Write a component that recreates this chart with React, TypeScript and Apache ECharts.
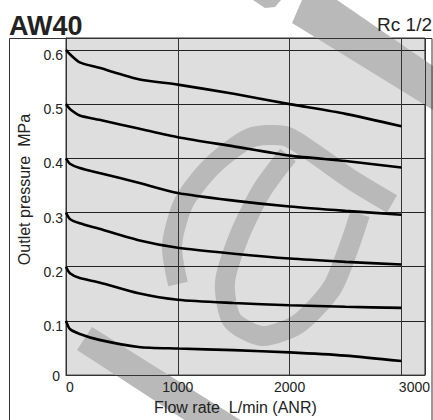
import React, { useEffect, useRef } from "react";
import * as echarts from "echarts";

const flowPoints = [0, 35, 123, 298, 649, 1000, 1500, 2000, 2500, 3000];
const p06 = [0.6, 0.592, 0.577, 0.567, 0.546, 0.536, 0.519, 0.5, 0.482, 0.459];
const p05 = [0.5, 0.491, 0.479, 0.471, 0.455, 0.439, 0.422, 0.405, 0.395, 0.383];
const p04 = [0.4, 0.39, 0.382, 0.373, 0.355, 0.336, 0.322, 0.311, 0.303, 0.296];
const p03 = [0.3, 0.288, 0.28, 0.27, 0.249, 0.235, 0.224, 0.215, 0.209, 0.204];
const p02 = [0.2, 0.188, 0.179, 0.171, 0.151, 0.139, 0.133, 0.129, 0.126, 0.124];
const p01 = [0.1, 0.085, 0.076, 0.065, 0.052, 0.049, 0.046, 0.042, 0.036, 0.026];
const curves = [p06, p05, p04, p03, p02, p01];

const xTicks = [0, 1000, 2000, 3000];
const yTicks = [0, 0.1, 0.2, 0.3, 0.4, 0.5, 0.6];

const FONT = "'Liberation Sans', Arial, Helvetica, sans-serif";
const WM = "#b9b9b9";

export default function App() {
  const ref = useRef<HTMLDivElement>(null);
  useEffect(() => {
    if (!ref.current) return;
    const chart = echarts.init(ref.current, undefined, { renderer: "svg" });
    const series = curves.map((c, i) => ({
      type: "line",
      name: "c" + i,
      data: flowPoints.map((f, j) => [f, c[j]]),
      smooth: 0.25,
      symbol: "none",
      lineStyle: { color: "#000", width: 2.6 },
      z: 3,
    }));
    const option: any = {
      animation: false,
      backgroundColor: "#fff",
      grid: {
        left: 66,
        right: 1,
        top: 38,
        bottom: 40,
        show: true,
        backgroundColor: "#dedede",
        borderColor: "#333",
        borderWidth: 1,
        z: 0,
      },
      xAxis: {
        type: "value",
        min: 0,
        max: 3210,
        interval: 1000,
        z: 2,
        name: "Flow rate  L/min (ANR)",
        nameLocation: "middle",
        nameGap: 22,
        nameTextStyle: { fontSize: 16, color: "#222", fontFamily: FONT, padding: [0, 20, 0, 0] },
        axisLine: { show: true, lineStyle: { color: "#333", width: 1 } },
        axisTick: { show: false },
        splitLine: { show: true, lineStyle: { color: "#333", width: 1 } },
        axisLabel: {
          margin: 5,
          fontSize: 14,
          color: "#222",
          fontFamily: FONT,
          showMaxLabel: false,
          formatter: (v: number) => {
            if (!xTicks.includes(v)) return "";
            if (v === 0) return "{a|0}";
            if (v === 3000) return "{b|3000}";
            return String(v);
          },
          rich: {
            a: { fontSize: 14, color: "#222", fontFamily: FONT, padding: [0, 0, 0, 8] },
            b: { fontSize: 14, color: "#222", fontFamily: FONT, padding: [0, 0, 0, 26] },
          },
        },
      },
      yAxis: {
        type: "value",
        min: 0,
        max: 0.622,
        interval: 0.1,
        z: 2,
        name: "Outlet pressure  MPa",
        nameLocation: "middle",
        nameGap: 33,
        nameRotate: 90,
        nameTextStyle: { fontSize: 16, color: "#222", fontFamily: FONT, padding: [0, 0, 0, 34] },
        axisLine: { show: true, lineStyle: { color: "#333", width: 1 } },
        axisTick: { show: false },
        splitLine: { show: true, lineStyle: { color: "#222", width: 1 } },
        axisLabel: {
          margin: 3,
          fontSize: 14,
          color: "#222",
          fontFamily: FONT,
          showMaxLabel: false,
          formatter: (v: number) => {
            const r = Math.round(v * 10) / 10;
            if (!yTicks.includes(r) || Math.abs(r - v) > 1e-6) return "";
            if (r === 0) return "{z|0}";
            return "{t|" + r.toFixed(1) + "}";
          },
          rich: {
            t: { fontSize: 14, color: "#222", fontFamily: FONT, padding: [10, 0, 0, 0] },
            z: { fontSize: 14, color: "#222", fontFamily: FONT, padding: [2, 3, 0, 0] },
          },
        },
      },
      graphic: [
        {
          type: "rect",
          shape: { x: 9.5, y: 38.5, width: 422.5, height: 400 },
          style: { fill: "none", stroke: "#333", lineWidth: 1 },
          z: 4,
          silent: true,
        },
        {
          type: "polygon",
          shape: { points: [[302, 0], [337, 0], [433, 66], [433, 110], [292, 23]] },
          style: { fill: WM },
          z: 1,
          silent: true,
        },
        {
          type: "polygon",
          shape: { points: [[253, 0], [281, 0], [275, 7], [265, 8]] },
          style: { fill: WM },
          z: 1,
          silent: true,
        },
        {
          type: "polygon",
          shape: { points: [[92, 327], [77, 350], [186, 421], [242, 421]] },
          style: { fill: WM },
          z: 1,
          silent: true,
        },
        {
          type: "polyline",
          shape: {
            points: [[178, 284], [172, 245], [184, 202], [212, 166], [250, 138], [285, 136], [312, 152], [352, 180], [392, 204]],
            smooth: 0.25,
          },
          style: { stroke: WM, lineWidth: 20, fill: "none" },
          z: 1,
          silent: true,
        },
        {
          type: "polyline",
          shape: {
            points: [[288, 155], [262, 190], [240, 234], [225, 282], [232, 320], [262, 336], [298, 324], [332, 288], [350, 244], [360, 214]],
            smooth: 0.25,
          },
          style: { stroke: WM, lineWidth: 20, fill: "none" },
          z: 1,
          silent: true,
        },
        {
          type: "text",
          left: 9,
          top: 12,
          style: { text: "AW40", font: "bold 27px " + FONT, fill: "#222" },
          z: 5,
        },
        {
          type: "text",
          right: 1,
          top: 15,
          style: { text: "Rc 1/2", font: "19px " + FONT, fill: "#222" },
          z: 5,
        },
      ],
      series,
    };
    chart.setOption(option);
    return () => chart.dispose();
  }, []);
  return (
    <div
      ref={ref}
      style={{ position: "absolute", left: 0, top: 0, width: 433, height: 420 }}
    />
  );
}
